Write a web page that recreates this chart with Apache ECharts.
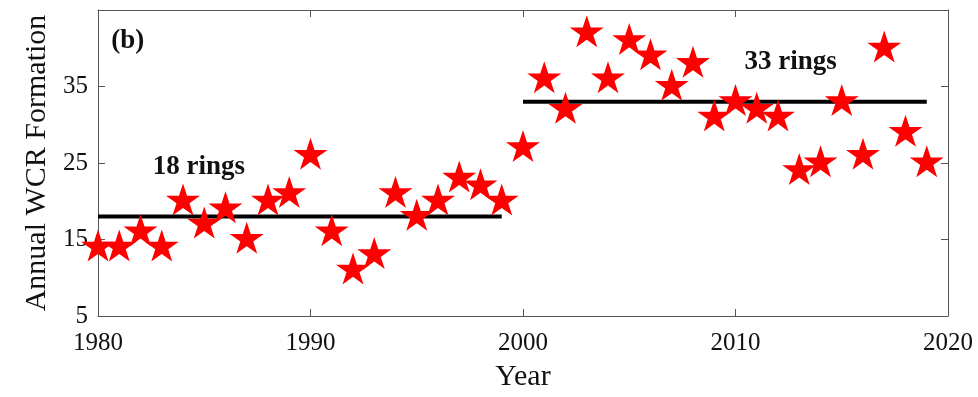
<!DOCTYPE html>
<html>
<head>
<meta charset="utf-8">
<script src="https://cdn.jsdelivr.net/npm/echarts@6/dist/echarts.min.js"></script>
<style>
html,body{margin:0;padding:0;background:#fff;}
#c{width:978px;height:397px;}
</style>
</head>
<body>
<div id="c"></div>
<script>
var years = [1980,1981,1982,1983,1984,1985,1986,1987,1988,1989,1990,1991,1992,1993,1994,1995,1996,1997,1998,1999,
             2000,2001,2002,2003,2004,2005,2006,2007,2008,2009,2010,2011,2012,2013,2014,2015,2016,2017,2018,2019];
var wcrCounts = [14,14,16,14,20,17,19,15,20,21,26,16,11,13,21,18,20,23,22,20,
                 27,36,32,42,36,41,39,35,38,31,33,32,31,24,25,33,26,40,29,25];
var period1 = [[1980,18],[1999,18]];
var period2 = [[2000,33],[2019,33]];
var xTickLabels = [1980,1990,2000,2010,2020];
var yTickLabels = [5,15,25,35];
var annotations = [
  {text:'(b)', coord:[1981.4,40.9]},
  {text:'18 rings', coord:[1984.75,24.5]},
  {text:'33 rings', coord:[2012.6,38.2]}
];

var starPath = 'path://M50 0 L61.226 34.549 L97.553 34.549 L68.164 55.902 L79.389 90.451 L50 69.098 L20.611 90.451 L31.836 55.902 L2.447 34.549 L38.774 34.549 Z';
var starW = 34, starH = 32;

var font = '"Liberation Serif","Times New Roman",serif';
var axisColor = '#555';

var scatterData = years.map(function(y,i){ return [y, wcrCounts[i]]; });

var chart = echarts.init(document.getElementById('c'), null, {renderer:'canvas'});
chart.setOption({
  animation:false,
  backgroundColor:'#fff',
  grid:{left:98, right:30, top:10, bottom:79, containLabel:false},
  xAxis:[{
    type:'value', min:1980, max:2020, interval:10,
    name:'Year', nameLocation:'middle', nameGap:46,
    nameTextStyle:{fontFamily:font, fontSize:30, color:'#111'},
    axisLine:{show:true, lineStyle:{color:axisColor, width:1}},
    axisTick:{show:true, inside:true, length:7, lineStyle:{color:axisColor}},
    axisLabel:{fontFamily:font, fontSize:25, color:'#111', margin:15,
      formatter:function(v){ return xTickLabels.indexOf(v)>=0 ? String(v) : ''; }},
    splitLine:{show:false}
  },{
    type:'value', position:'top', min:1980, max:2020, interval:10,
    axisLine:{show:true, lineStyle:{color:axisColor, width:1}},
    axisTick:{show:true, inside:true, length:7, lineStyle:{color:axisColor}},
    axisLabel:{show:false}, splitLine:{show:false}
  }],
  yAxis:[{
    type:'value', min:5, max:45, interval:10,
    name:'Annual WCR Formation', nameLocation:'middle', nameGap:40,
    nameTextStyle:{fontFamily:font, fontSize:30, color:'#111'},
    axisLine:{show:true, lineStyle:{color:axisColor, width:1}},
    axisTick:{show:true, inside:true, length:7, lineStyle:{color:axisColor}},
    axisLabel:{fontFamily:font, fontSize:25, color:'#111', margin:10, showMaxLabel:false,
      formatter:function(v){ return yTickLabels.indexOf(v)>=0 ? String(v) : ''; }},
    splitLine:{show:false}
  },{
    type:'value', position:'right', min:5, max:45, interval:10,
    axisLine:{show:true, lineStyle:{color:axisColor, width:1}},
    axisTick:{show:true, inside:true, length:7, lineStyle:{color:axisColor}},
    axisLabel:{show:false}, splitLine:{show:false}
  }],
  series:[{
    type:'line', data:period1, symbol:'none',
    lineStyle:{color:'#000', width:4, cap:'butt'}, z:2,
    markPoint:{
      symbol:'circle', symbolSize:0,
      label:{show:true, position:'inside', fontFamily:font, fontSize:27, fontWeight:'bold', color:'#111',
        formatter:function(p){ return p.name; }},
      data:annotations.map(function(a){ return {name:a.text, coord:a.coord}; })
    }
  },{
    type:'line', data:period2, symbol:'none',
    lineStyle:{color:'#000', width:4, cap:'butt'}, z:2
  },{
    type:'scatter',
    data:scatterData,
    symbol:starPath,
    symbolSize:[starW, starH],
    symbolOffset:[0, -0.053*starH],
    itemStyle:{color:'#ff0000', opacity:1},
    z:3
  }]
});
</script>
</body>
</html>
